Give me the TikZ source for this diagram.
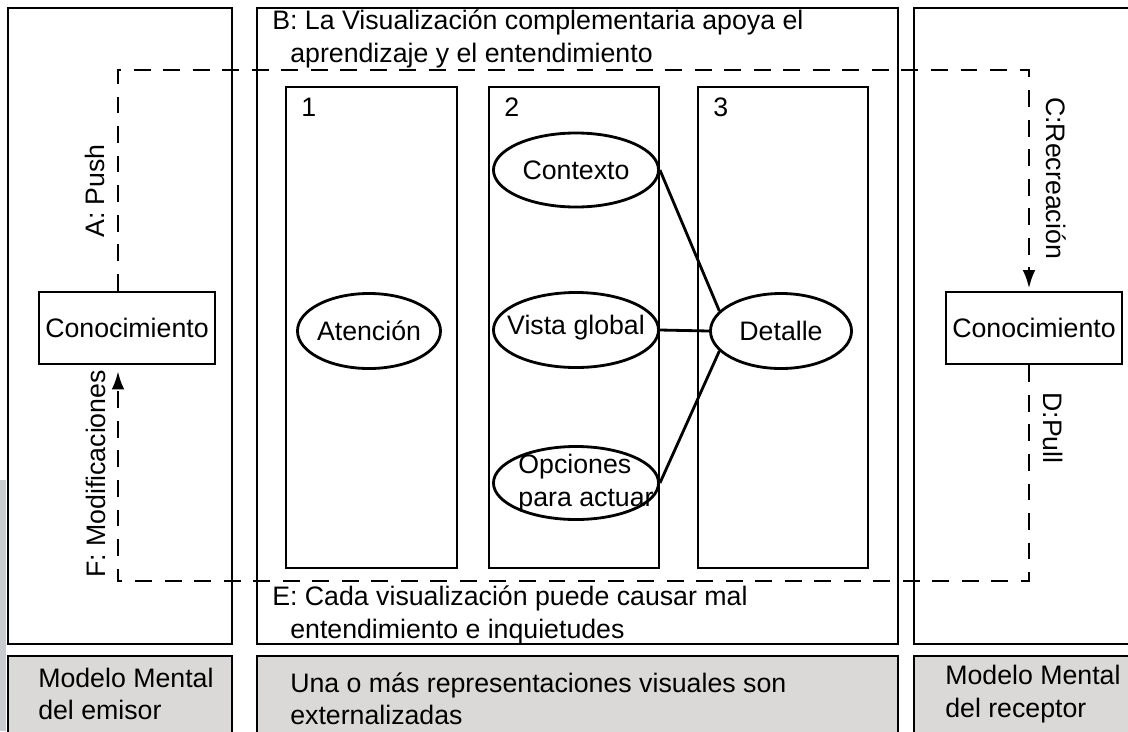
\documentclass[tikz,border=0pt]{standalone}
\usepackage{fontspec}
\setmainfont{Liberation Sans}
\usetikzlibrary{shapes.geometric, arrows.meta}
\tikzset{>={Latex[length=13pt, width=9pt]}}
\definecolor{panel}{RGB}{219,217,216}
\definecolor{edgestrip}{RGB}{200,204,208}
\tikzset{
    box/.style={line width=2.1pt},
    flow/.style={line width=2pt, dash pattern=on 12pt off 9pt},
    know/.style={draw, line width=2pt, minimum width=4.4cm, minimum height=1.8cm, inner sep=0pt},
    oval/.style={ellipse, draw, line width=2pt, inner sep=0pt},
    txt/.style={anchor=west, align=left, inner sep=0pt}
}

\begin{document}
\begin{tikzpicture}[x=0.025cm, y=-0.025cm, every node/.style={font=\fontsize{19}{23}\selectfont}]
    \useasboundingbox (0,0) rectangle (1128,731);
    \fill[edgestrip](0, 480) rectangle (6, 731);
    % paneles
    \draw[box](8, 8) rectangle (232, 644);
    \draw[box](257, 8) rectangle (898, 644);
    \draw[box](914, 8) rectangle (1140, 644);
    \draw[box, fill=panel](8, 656) rectangle (232, 745);
    \draw[box, fill=panel](257, 656) rectangle (898, 745);
    \draw[box, fill=panel](914, 656) rectangle (1140, 745);
    % columnas
    \draw[box](286, 87) rectangle (457, 568);
    \draw[box](489, 87) rectangle (659, 568);
    \draw[box](698, 87) rectangle (868, 568);
    \node[txt] (n1) at (301, 107) {1};
    \node[txt] (n2) at (504, 107) {2};
    \node[txt] (n3) at (713, 107) {3};
    % conocimiento
    \node[know] (kl) at (127, 328) {Conocimiento};
    \node[know] (kr) at (1034, 328) {Conocimiento};
    % elipses
    \node[oval, minimum width=3.575cm, minimum height=1.875cm, label=center:Atención] (ate) at (369, 331) {};
    \node[oval, minimum width=4.125cm, minimum height=1.85cm, label=center:Contexto] (ctx) at (576, 170) {};
    \node[oval, minimum width=4.125cm, minimum height=1.875cm, label={[yshift=2pt]center:Vista global}] (vis) at (576, 330) {};
    \node[oval, minimum width=4.125cm, minimum height=1.825cm] (opc) at (576, 483) {};
    \node[txt, anchor=center] (opct) at (586, 483) {Opciones\\para actuar};
    \node[oval, minimum width=3.525cm, minimum height=1.875cm, label=center:Detalle] (det) at (781, 331) {};
    \draw[line width=2pt](ctx.east)--(det.162);
    \draw[line width=2pt](vis.east)--(det.west);
    \draw[line width=2pt](opc.east)--(det.198);
    % flujo
    \coordinate (tl) at (118, 70);
    \coordinate (tr) at (1029, 70);
    \coordinate (br) at (1029, 581);
    \coordinate (bl) at (118, 581);
    \draw[flow, ->, shorten >=1.5pt](kl.north -| tl)--(tl)--(tr)--(kr.north -| tr);
    \draw[flow, ->, shorten >=4pt](kr.south -| br)--(br)--(bl)--(kl.south -| bl);
    \node[rotate=90] (lA) at (95, 191) {A: Push};
    \node[rotate=90] (lF) at (96, 474) {F: Modificaciones};
    \node[rotate=-90] (lC) at (1056, 178) {C:Recreación};
    \node[rotate=-90] (lD) at (1053, 428) {D:Pull};
    % textos
    \node[txt] (tB) at (272, 39) {B: La Visualización complementaria apoya el\\\hspace*{0.45cm}aprendizaje y el entendimiento};
    \node[txt] (tE) at (272, 615) {E: Cada visualización puede causar mal\\\hspace*{0.45cm}entendimiento e inquietudes};
    \node[txt] (gL) at (38, 694) {Modelo Mental\\del emisor};
    \node[txt] (gM) at (290, 699) {Una o más representaciones visuales son\\externalizadas};
    \node[txt] (gR) at (945, 694) {Modelo Mental\\del receptor};
\end{tikzpicture}
\end{document}
